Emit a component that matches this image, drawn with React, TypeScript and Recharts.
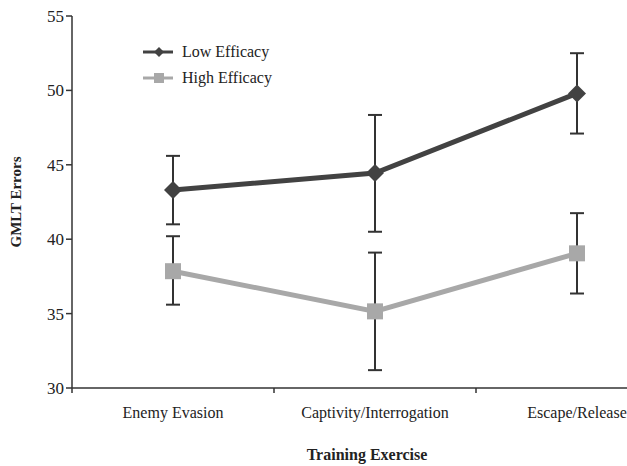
import { LineChart, Line, XAxis, YAxis, ErrorBar } from "recharts";

const categories = ["Enemy Evasion", "Captivity/Interrogation", "Escape/Release"];
const lowEfficacy = [43.3, 44.45, 49.8];
const lowErr: [number, number][] = [
  [2.3, 2.3],
  [3.95, 3.9],
  [2.7, 2.7],
];
const highEfficacy = [37.85, 35.15, 39.05];
const highErr: [number, number][] = [
  [2.25, 2.35],
  [3.95, 3.95],
  [2.7, 2.7],
];
const yTicks = [30, 35, 40, 45, 50, 55];

const data = categories.map((name, i) => ({
  name,
  x: i + 0.5,
  low: lowEfficacy[i],
  lowErr: lowErr[i],
  high: highEfficacy[i],
  highErr: highErr[i],
}));

const DARK = "#424242";
const LIGHT = "#a8a8a8";
const FONT = "'Liberation Serif', 'Times New Roman', serif";

function Diamond({ cx, cy, fill, r = 7 }: any) {
  if (cx == null || cy == null) return null;
  return <path d={`M${cx},${cy - r} L${cx + r},${cy} L${cx},${cy + r} L${cx - r},${cy} Z`} fill={fill} />;
}

function Square({ cx, cy, fill, s = 7 }: any) {
  if (cx == null || cy == null) return null;
  return <rect x={cx - s} y={cy - s} width={s * 2} height={s * 2} fill={fill} />;
}

function LegendBox() {
  const rows = [
    { label: "Low Efficacy", color: DARK, kind: "d" },
    { label: "High Efficacy", color: LIGHT, kind: "s" },
  ];
  return (
    <svg width={170} height={60} style={{ position: "absolute", left: 143, top: 42, overflow: "visible" }}>
      {rows.map((r, i) => {
        const y = 10 + i * 26;
        return (
          <g key={r.label}>
            <line x1={0} x2={30} y1={y} y2={y} stroke={r.color} strokeWidth={3} />
            {r.kind === "d" ? <Diamond cx={16} cy={y} r={5} fill={r.color} /> : <Square cx={16} cy={y} s={5} fill={r.color} />}
            <text x={39} y={y + 5} fontSize={16} fontFamily={FONT} fill="#222">
              {r.label}
            </text>
          </g>
        );
      })}
    </svg>
  );
}

export default function App() {
  return (
    <div style={{ position: "fixed", left: 0, top: 0, width: 627, height: 466, overflow: "hidden", background: "#fff" }}>
      <LineChart width={700} height={466} data={data} margin={{ top: 16, right: 22, left: 0, bottom: 0 }}>
        <XAxis
          xAxisId={0}
          dataKey="x"
          type="number"
          domain={[0, 3]}
          ticks={[0, 1, 2, 3]}
          tickFormatter={() => ""}
          tickSize={5}
          stroke="#333"
          strokeWidth={1.5}
          height={8}
        />
        <XAxis
          xAxisId={1}
          dataKey="x"
          type="number"
          domain={[0, 3]}
          ticks={[0.5, 1.5, 2.5]}
          tickFormatter={(v: number) => categories[Math.round(v - 0.5)]}
          axisLine={false}
          tickLine={false}
          tick={{ fontSize: 16, fontFamily: FONT, fill: "#222", dy: 3 }}
          height={70}
          label={{ value: "Training Exercise", position: "insideBottom", offset: 6, style: { fontSize: 16, fontFamily: FONT, fontWeight: "bold", fill: "#222" }, dx: -8 }}
        />
        <YAxis
          domain={[30, 55]}
          ticks={yTicks}
          width={72}
          stroke="#333"
          strokeWidth={1.5}
          tickSize={6}
          tick={{ fontSize: 17, fontFamily: FONT, fill: "#222" }}
          label={{ value: "GMLT Errors", angle: -90, position: "insideLeft", offset: 16, style: { fontSize: 15, fontFamily: FONT, fontWeight: "bold", fill: "#222", textAnchor: "middle" } }}
        />
        <Line
          xAxisId={1}
          dataKey="low"
          stroke={DARK}
          strokeWidth={5}
          dot={(p: any) => <Diamond key={`d${p.index}`} cx={p.cx} cy={p.cy} fill={DARK} r={9} />}
          activeDot={false}
          isAnimationActive={false}
        >
          <ErrorBar dataKey="lowErr" width={7} strokeWidth={2} stroke="#333" direction="y" />
        </Line>
        <Line
          xAxisId={1}
          dataKey="high"
          stroke={LIGHT}
          strokeWidth={5}
          dot={(p: any) => <Square key={`s${p.index}`} cx={p.cx} cy={p.cy} fill={LIGHT} s={8} />}
          activeDot={false}
          isAnimationActive={false}
        >
          <ErrorBar dataKey="highErr" width={7} strokeWidth={2} stroke="#333" direction="y" />
        </Line>
      </LineChart>
      <LegendBox />
    </div>
  );
}
